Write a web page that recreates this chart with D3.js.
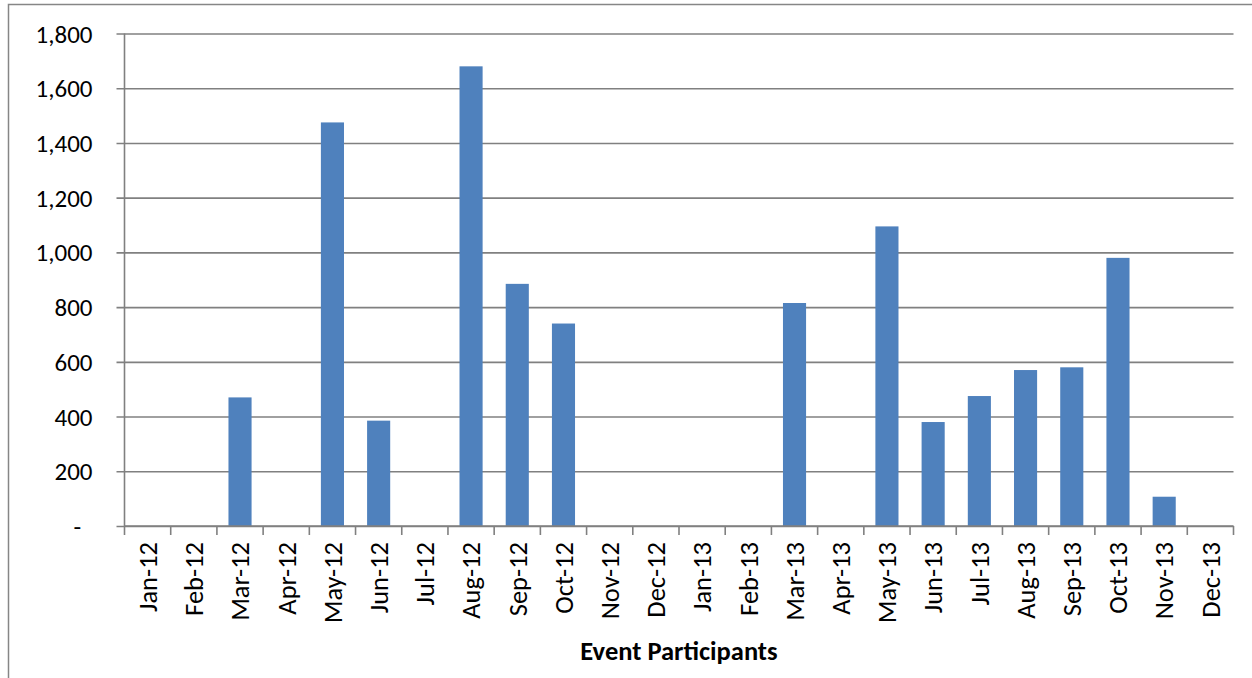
<!DOCTYPE html>
<html>
<head>
<meta charset="utf-8">
<script src="https://cdn.jsdelivr.net/npm/d3@7"></script>
<style>
  body { margin: 0; background: #fff; }
  svg text { font-family: Carlito, "Open Sans", "Noto Sans", sans-serif; fill: #000; }
</style>
</head>
<body>
<div id="chart"></div>
<script>
var months = ["Jan-12", "Feb-12", "Mar-12", "Apr-12", "May-12", "Jun-12", "Jul-12", "Aug-12",
    "Sep-12", "Oct-12", "Nov-12", "Dec-12", "Jan-13", "Feb-13", "Mar-13", "Apr-13",
    "May-13", "Jun-13", "Jul-13", "Aug-13", "Sep-13", "Oct-13", "Nov-13", "Dec-13"];
var participants = [0, 0, 470, 0, 1475, 385, 0, 1680, 885, 740, 0, 0, 0, 0, 815, 0,
    1095, 380, 475, 570, 580, 980, 107, 0];
var yTicks = [0, 200, 400, 600, 800, 1000, 1200, 1400, 1600, 1800];
var axisTitle = "Event Participants";

var dim = { width: 1252, height: 678 };
var plot = { left: 124.5, right: 1233.5, top: 33.5, bottom: 526 };

var svg = d3.select("#chart").append("svg")
    .attr("width", dim.width)
    .attr("height", dim.height);

// outer chart frame (runs off the right / bottom edge like the original)
svg.append("rect")
    .attr("x", 8.5).attr("y", 4.5)
    .attr("width", dim.width + 20).attr("height", dim.height + 20)
    .attr("fill", "#fff")
    .attr("stroke", "#868686")
    .attr("stroke-width", 1.5);

var x = d3.scaleBand()
    .domain(months)
    .range([plot.left, plot.right])
    .paddingInner(0.5)
    .paddingOuter(0.25);

var y = d3.scaleLinear()
    .domain([0, 1800])
    .range([plot.bottom, plot.top]);

var fmt = function(d) { return d === 0 ? "-  " : d3.format(",")(d); };

// gridlines + y ticks
var yAxis = d3.axisLeft(y)
    .tickValues(yTicks)
    .tickSize(-(plot.right - plot.left))
    .tickSizeOuter(0)
    .tickPadding(32)
    .tickFormat(fmt);

var gy = svg.append("g")
    .attr("transform", "translate(" + plot.left + ",0)")
    .call(yAxis);
gy.select(".domain").remove();
gy.selectAll(".tick line")
    .attr("x1", -8)
    .attr("stroke", "#808080")
    .attr("stroke-width", 1.6);
gy.selectAll(".tick text")
    .style("font-size", "25px")
    .attr("dy", "0.34em")
    .style("white-space", "pre")
    .attr("xml:space", "preserve");

// bars
svg.append("g").selectAll("rect")
    .data(months.map(function(m, i) { return { month: m, value: participants[i] }; }))
    .enter().append("rect")
    .attr("x", function(d) { return x(d.month); })
    .attr("width", x.bandwidth())
    .attr("y", function(d) { return y(d.value); })
    .attr("height", function(d) { return y(0) - y(d.value); })
    .attr("fill", "#4F81BD");

// y axis line
svg.append("line")
    .attr("x1", plot.left).attr("x2", plot.left)
    .attr("y1", plot.top).attr("y2", plot.bottom)
    .attr("stroke", "#808080").attr("stroke-width", 1.6);

// x axis with category boundary ticks
var xb = d3.scaleLinear().domain([0, months.length]).range([plot.left, plot.right]);
var gx = svg.append("g").attr("transform", "translate(0," + plot.bottom + ")");
gx.append("line")
    .attr("x1", plot.left).attr("x2", plot.right)
    .attr("stroke", "#808080").attr("stroke-width", 1.6);
gx.selectAll("line.tk")
    .data(d3.range(months.length + 1))
    .enter().append("line")
    .attr("class", "tk")
    .attr("x1", function(d) { return xb(d); })
    .attr("x2", function(d) { return xb(d); })
    .attr("y1", 0).attr("y2", 9)
    .attr("stroke", "#808080").attr("stroke-width", 1.6);

gx.selectAll("text")
    .data(months)
    .enter().append("text")
    .attr("transform", function(d) {
        return "translate(" + (x(d) + x.bandwidth() / 2) + ",16) rotate(-90)";
    })
    .attr("text-anchor", "end")
    .attr("dy", "0.35em")
    .style("font-size", "26.5px")
    .text(function(d) { return d; });

svg.append("text")
    .attr("x", (plot.left + plot.right) / 2)
    .attr("y", 660)
    .attr("text-anchor", "middle")
    .style("font-size", "26.5px")
    .style("font-weight", "bold")
    .text(axisTitle);
</script>
</body>
</html>
